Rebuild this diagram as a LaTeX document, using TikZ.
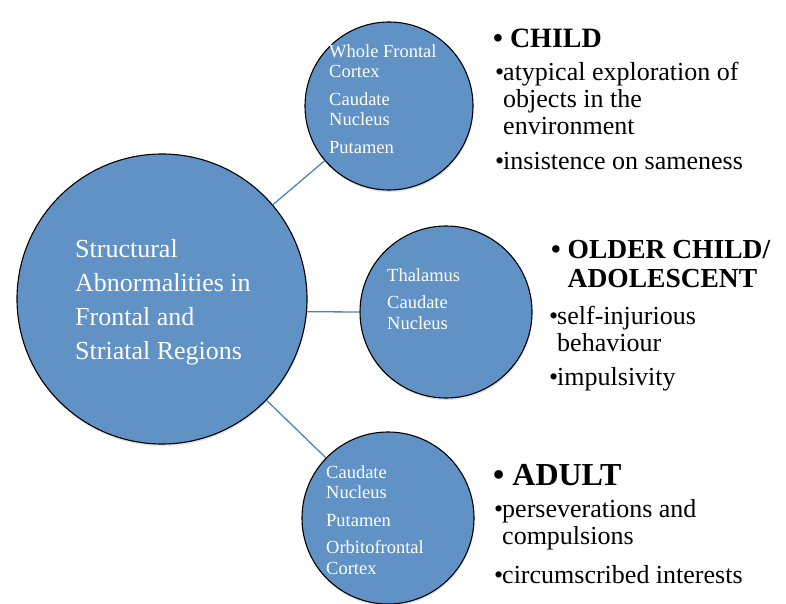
\documentclass[tikz,border=0pt]{standalone}
\usepackage{fontspec}
\usetikzlibrary{shadows}
\setmainfont{Liberation Serif}
\definecolor{regionblue}{RGB}{96,146,197}
\definecolor{spokeblue}{RGB}{79,129,189}
\newcommand{\itemdot}{\makebox[8pt][l]{\textbullet}}
\newcommand{\itemskip}{\hspace*{8pt}}

\begin{document}
\begin{tikzpicture}[x=1pt, y=-1pt,
    region/.style ={circle, draw=black, line width=1.1pt, fill=regionblue, inner sep=0pt,
                    drop shadow={opacity=0.25, shadow xshift=0.5pt, shadow yshift=-2pt}},
    inside/.style ={text=white, align=left, inner sep=0pt, anchor=north west,
                    font=\fontsize{18.5}{20.5}\selectfont},
    stage/.style ={align=left, inner sep=0pt, anchor=north west, font=\bfseries},
    sign/.style ={align=left, inner sep=0pt, anchor=north west,
                  font=\fontsize{26}{27}\selectfont},
    spoke/.style ={draw=spokeblue, line width=1.3pt}]
   \useasboundingbox (0,0) rectangle (786,604);

   \node[region, minimum size=290pt] (S) at (162,299) {};
   \node[region, minimum size=168pt] (A) at (389,106) {};
   \node[region, minimum size=172pt] (B) at (446,312) {};
   \node[region, minimum size=172pt] (C) at (388,518) {};

   \draw[spoke] (S) to (A);
   \draw[spoke] (S.-5.1) to (B.west);
   \draw[spoke] (S) to (C);

   \node[inside, font=\fontsize{26}{34}\selectfont] (Stext) at (75,239)
     {Structural\\Abnormalities in\\Frontal and\\Striatal Regions};
   \node[inside] (Atext) at (329,44)
     {Whole Frontal\\Cortex\\[7pt]Caudate\\Nucleus\\[7pt]Putamen};
   \node[inside] (Btext) at (387,268)
     {Thalamus\\[7pt]Caudate\\Nucleus};
   \node[inside] (Ctext) at (326,465)
     {Caudate\\Nucleus\\[7pt]Putamen\\[7pt]Orbitofrontal\\Cortex};

   % child
   \node[stage, font=\bfseries\fontsize{28}{29}\selectfont] (child) at (493,28.5)
     {\textbullet\ CHILD};
   \node[sign] (childsign) at (495,62)
     {\itemdot atypical exploration of\\\itemskip objects in the\\\itemskip environment\\[8pt]
      \itemdot insistence on sameness};

   % older child
   \node[stage, font=\bfseries\fontsize{27.5}{29}\selectfont] (older) at (551,240)
     {\textbullet\ OLDER CHILD/\\\hphantom{\textbullet\ }ADOLESCENT};
   \node[sign] (oldersign) at (549,306)
     {\itemdot self-injurious\\\itemskip behaviour\\[7pt]\itemdot impulsivity};

   % adult
   \node[stage, font=\bfseries\fontsize{32}{33}\selectfont] (adult) at (493,464)
     {\textbullet\ ADULT};
   \node[sign] (adultsign) at (494,499)
     {\itemdot perseverations and\\\itemskip compulsions\\[12pt]\itemdot circumscribed interests};
\end{tikzpicture}
\end{document}
